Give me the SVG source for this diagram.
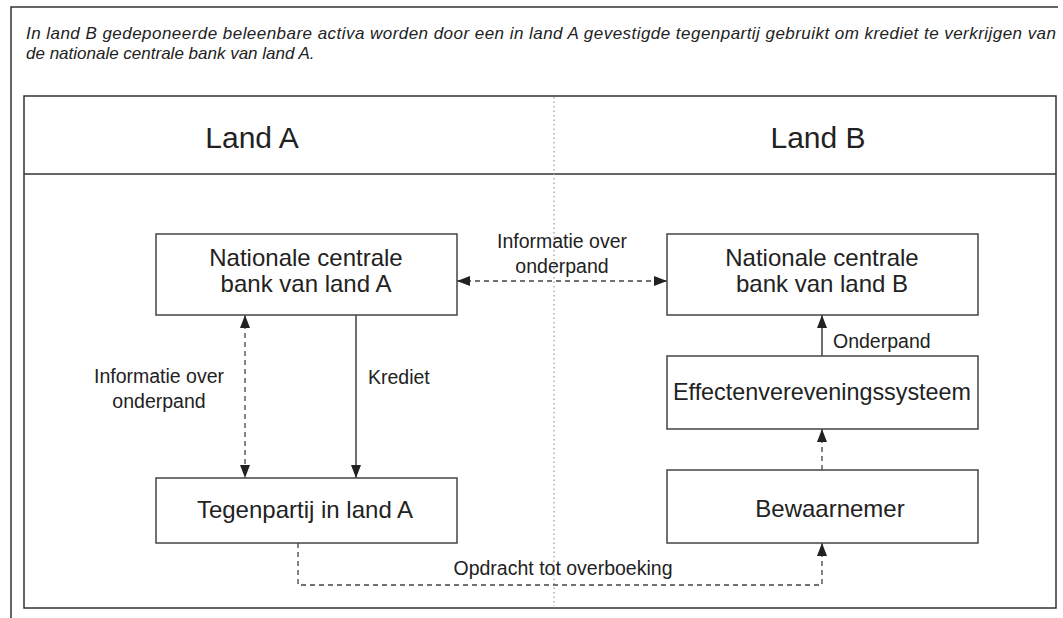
<svg xmlns="http://www.w3.org/2000/svg" width="1063" height="618" viewBox="0 0 1063 618">
<style>
.frame{fill:none;stroke:#333;stroke-width:1.5}
.box{fill:#fff;stroke:#444;stroke-width:1.5}
.node{font-family:"Liberation Sans",Arial,sans-serif;font-size:24px;fill:#222;text-anchor:middle}
.hdr{font-family:"Liberation Sans",Arial,sans-serif;font-size:30px;fill:#222;text-anchor:middle}
.lbl{font-family:"Liberation Sans",Arial,sans-serif;font-size:19.5px;fill:#222}
.title{font-family:"Liberation Sans",Arial,sans-serif;font-size:17px;font-style:italic;fill:#222}
.solid{fill:none;stroke:#333;stroke-width:1.4}
.dash{fill:none;stroke:#444;stroke-width:1.3;stroke-dasharray:5 4}
.dot{fill:none;stroke:#999;stroke-width:1.2;stroke-dasharray:1.5 3}
</style>
<defs>
<marker id="ah" markerUnits="userSpaceOnUse" markerWidth="14" markerHeight="12" refX="13" refY="5" orient="auto-start-reverse">
<path d="M0,0 L13,5 L0,10 z" fill="#222"/>
</marker>
</defs>
<rect width="1063" height="618" fill="#fff"/>
<g id="frame">
<path class="frame" d="M11,618 V7 H1058"/>
<rect class="frame" x="24" y="96" width="1032" height="512"/>
<line class="frame" x1="24" y1="174" x2="1056" y2="174"/>
<line class="dot" x1="554" y1="97" x2="554" y2="606"/>
</g>
<g id="title">
<text class="title" x="26" y="39" textLength="1030" lengthAdjust="spacing">In land B gedeponeerde beleenbare activa worden door een in land A gevestigde tegenpartij gebruikt om krediet te verkrijgen van</text>
<text class="title" x="26" y="59">de nationale centrale bank van land A.</text>
</g>
<g id="headers">
<text class="hdr" x="252" y="148">Land A</text>
<text class="hdr" x="818" y="148">Land B</text>
</g>
<g id="connectors">
<line class="dash" x1="457" y1="281" x2="667" y2="281" marker-start="url(#ah)" marker-end="url(#ah)"/>
<line class="dash" x1="245" y1="315" x2="245" y2="478" marker-start="url(#ah)" marker-end="url(#ah)"/>
<line class="solid" x1="356" y1="315" x2="356" y2="478" marker-end="url(#ah)"/>
<line class="solid" x1="822" y1="356" x2="822" y2="315" marker-end="url(#ah)"/>
<line class="dash" x1="822" y1="470" x2="822" y2="429" marker-end="url(#ah)"/>
<path class="dash" d="M298,543 V585 H822 V543" marker-end="url(#ah)"/>
<text class="lbl" x="562" y="248" text-anchor="middle">Informatie over</text>
<text class="lbl" x="562" y="273" text-anchor="middle">onderpand</text>
<text class="lbl" x="159" y="383" text-anchor="middle">Informatie over</text>
<text class="lbl" x="159" y="408" text-anchor="middle">onderpand</text>
<text class="lbl" x="368" y="384">Krediet</text>
<text class="lbl" x="833" y="348">Onderpand</text>
<text class="lbl" x="563" y="575" text-anchor="middle">Opdracht tot overboeking</text>
</g>
<g id="ncb-a">
<rect class="box" x="156" y="234" width="301" height="81"/>
<text class="node" x="306" y="266">Nationale centrale</text>
<text class="node" x="306" y="292">bank van land A</text>
</g>
<g id="tegenpartij">
<rect class="box" x="156" y="478" width="301" height="65"/>
<text class="node" x="305" y="518">Tegenpartij in land A</text>
</g>
<g id="ncb-b">
<rect class="box" x="667" y="234" width="311" height="81"/>
<text class="node" x="822" y="266">Nationale centrale</text>
<text class="node" x="822" y="292">bank van land B</text>
</g>
<g id="effecten">
<rect class="box" x="667" y="356" width="311" height="73"/>
<text class="node" x="822" y="400" textLength="298" lengthAdjust="spacingAndGlyphs">Effectenvereveningssysteem</text>
</g>
<g id="bewaarnemer">
<rect class="box" x="667" y="470" width="311" height="73"/>
<text class="node" x="830" y="517">Bewaarnemer</text>
</g>
</svg>
